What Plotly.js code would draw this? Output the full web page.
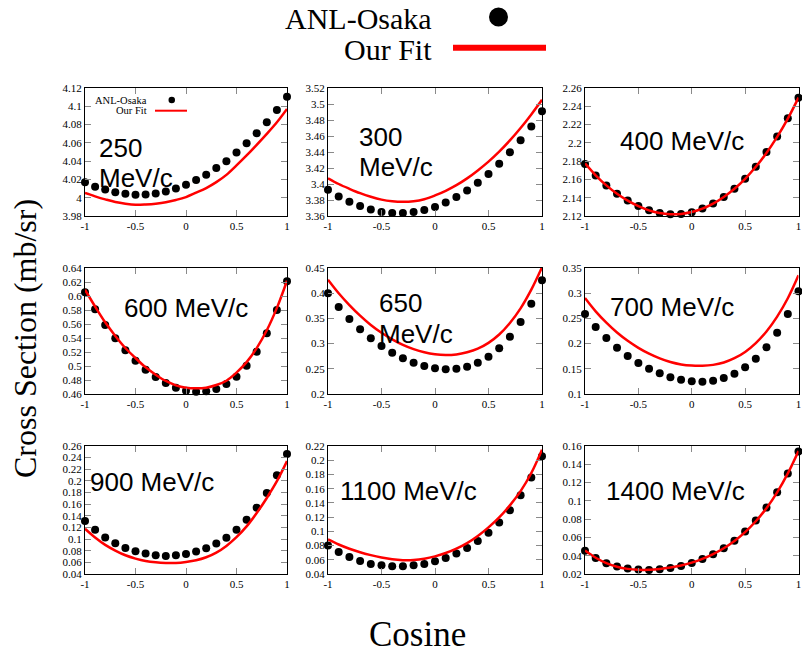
<!DOCTYPE html>
<html><head><meta charset="utf-8">
<script src="https://cdn.plot.ly/plotly-3.0.1.min.js"></script>
<style>html,body{margin:0;padding:0;background:#fff}#chart{width:802px;height:657px}</style>
</head><body><div id="chart"></div>
<script>
// ---- data ----
const cosine = [-1,-0.9,-0.8,-0.7,-0.6,-0.5,-0.4,-0.3,-0.2,-0.1,0,0.1,0.2,0.3,0.4,0.5,0.6,0.7,0.8,0.9,1];
const momentumLabels = ['250','300','400','600','650','700','900','1100','1400'];
const xTickVals = [-1,-0.5,0,0.5,1];
const xTickText = ['-1','-0.5','0','0.5','1'];

const anl250 = [4.017,4.012,4.009,4.006,4.0044,4.0033,4.0036,4.0047,4.0069,4.010,4.0142,4.0193,4.025,4.0324,4.040,4.0495,4.0596,4.0705,4.0825,4.096,4.1105];
const fit250 = [4.0051,4.0015,3.9982,3.9953,3.9935,3.9924,3.9927,3.9935,3.995,3.9975,4.0007,4.0055,4.0105,4.017,4.025,4.0353,4.0462,4.0578,4.0698,4.0825,4.0971];
const anl300 = [3.3928,3.3844,3.3777,3.3726,3.368,3.3651,3.3638,3.3638,3.3651,3.3676,3.3714,3.3768,3.3836,3.392,3.4017,3.4126,3.4253,3.4396,3.4547,3.472,3.491];
const fit300 = [3.4072,3.400,3.394,3.3885,3.384,3.3805,3.3785,3.3778,3.3785,3.3810,3.3857,3.3915,3.3985,3.4070,3.4170,3.4280,3.4405,3.4545,3.4700,3.4870,3.5053];
const anl400 = [2.1768,2.1643,2.1533,2.1442,2.1369,2.131,2.1262,2.1233,2.1218,2.1222,2.124,2.1281,2.1336,2.1409,2.1497,2.1607,2.1739,2.19,2.2069,2.227,2.2494];
const fit400 = [2.1775,2.1645,2.1535,2.1443,2.1368,2.1308,2.1262,2.1232,2.1220,2.1223,2.1243,2.1280,2.1335,2.1408,2.1498,2.1607,2.1738,2.1890,2.2065,2.2265,2.2495];
const anl600 = [0.6052,0.581,0.5586,0.5395,0.5224,0.5076,0.4948,0.4843,0.4757,0.469,0.4648,0.4633,0.4638,0.4671,0.4743,0.4848,0.5005,0.5205,0.5467,0.58,0.621];
const fit600 = [0.609,0.585,0.5624,0.543,0.5257,0.5114,0.4981,0.4876,0.4786,0.4724,0.469,0.4681,0.469,0.4728,0.479,0.4905,0.5055,0.5255,0.551,0.583,0.6219];
const anl650 = [0.3997,0.3726,0.3488,0.3283,0.3104,0.2952,0.282,0.2708,0.2622,0.2556,0.2509,0.2489,0.2503,0.2542,0.2622,0.2741,0.2906,0.3138,0.3429,0.3792,0.4255];
const fit650 = [0.4269,0.400,0.3765,0.3555,0.337,0.3215,0.3085,0.2975,0.289,0.2827,0.2787,0.2772,0.2785,0.2828,0.29,0.3015,0.318,0.341,0.37,0.407,0.4513];
const anl700 = [0.2587,0.2329,0.2111,0.1919,0.1753,0.1615,0.1503,0.141,0.1331,0.1284,0.1251,0.1245,0.1265,0.1317,0.1403,0.1529,0.1701,0.1926,0.2217,0.2587,0.3037];
const fit700 = [0.2905,0.264,0.2415,0.222,0.2055,0.1915,0.18,0.1707,0.1635,0.1587,0.1563,0.156,0.1578,0.1625,0.171,0.1835,0.201,0.224,0.2535,0.29,0.3355];
const anl900 = [0.131,0.116,0.1027,0.093,0.0849,0.0791,0.0751,0.0722,0.0711,0.0722,0.0745,0.0785,0.0843,0.0924,0.1022,0.116,0.1333,0.154,0.1794,0.2099,0.2462];
const fit900 = [0.1177,0.1027,0.0901,0.0803,0.0722,0.0665,0.0624,0.0601,0.059,0.059,0.0607,0.0636,0.0688,0.0768,0.0883,0.1033,0.1218,0.1448,0.1707,0.1995,0.2341];
const anl1100 = [0.0802,0.0709,0.0639,0.0582,0.054,0.0522,0.0508,0.0508,0.0522,0.054,0.0578,0.0624,0.069,0.0765,0.0863,0.098,0.1125,0.1298,0.1508,0.1756,0.2055];
const fit1100 = [0.0886,0.0815,0.0755,0.0705,0.0665,0.0632,0.0607,0.0595,0.0597,0.0615,0.0648,0.0695,0.0757,0.0835,0.0935,0.1055,0.1195,0.1365,0.1565,0.1820,0.2149];
const anl1400 = [0.0453,0.0376,0.0317,0.0281,0.0259,0.0248,0.0244,0.0251,0.0266,0.0288,0.0321,0.0365,0.0416,0.0482,0.0563,0.0665,0.0786,0.0926,0.1094,0.1299,0.1541];
const fit1400 = [0.0457,0.0378,0.0319,0.0279,0.0256,0.0246,0.0246,0.0254,0.027,0.0293,0.0325,0.0366,0.0418,0.0482,0.0561,0.0658,0.0777,0.092,0.1093,0.13,0.1545];

const anlSeries = [anl250,anl300,anl400,anl600,anl650,anl700,anl900,anl1100,anl1400];
const fitSeries = [fit250,fit300,fit400,fit600,fit650,fit700,fit900,fit1100,fit1400];
const yRanges = [[3.98,4.12],[3.36,3.52],[2.12,2.26],[0.46,0.64],[0.2,0.45],[0.1,0.35],[0.04,0.26],[0.04,0.22],[0.02,0.16]];
const yDticks = [0.02,0.02,0.02,0.02,0.05,0.05,0.02,0.02,0.02];

// ---- layout helpers ----
const W = 802, H = 657;
const px = v => v / W, py = v => 1 - v / H;
const colDom = [[85/W, 287/W],[328/W, 542/W],[585/W, 798.5/W]];
const rowDom = [[1-216/H, 1-88/H],[1-394/H, 1-268/H],[1-574/H, 1-446/H]];
const SERIF = 'Liberation Serif, Times New Roman, serif';
const SANS = 'Liberation Sans, Arial, sans-serif';

const traces = [];
const layout = {
  width: W, height: H,
  margin: {l:0, r:0, t:0, b:0},
  paper_bgcolor: '#fff', plot_bgcolor: '#fff',
  showlegend: false,
  annotations: [], shapes: []
};

const axisStyle = {
  ticks: 'inside', ticklen: 6, tickwidth: 1, tickcolor: '#8a8a8a',
  showline: true, linecolor: '#000', linewidth: 1, mirror: 'ticks',
  showgrid: false, zeroline: false, ticklabeloverflow: 'allow',
  tickfont: {family: SERIF, size: 11, color: '#000'},
  fixedrange: true
};

for (let i = 0; i < 9; i++) {
  const s = i === 0 ? '' : String(i + 1);
  const col = i % 3, row = Math.floor(i / 3);
  traces.push({
    x: cosine, y: anlSeries[i], type: 'scatter', mode: 'markers',
    marker: {size: 8, color: '#000'}, cliponaxis: false,
    xaxis: 'x' + s, yaxis: 'y' + s, hoverinfo: 'skip'
  });
  traces.push({
    x: cosine, y: fitSeries[i], type: 'scatter', mode: 'lines',
    line: {color: '#ff0000', width: 2.5, shape: 'spline', smoothing: 1},
    xaxis: 'x' + s, yaxis: 'y' + s, hoverinfo: 'skip'
  });
  layout['xaxis' + s] = Object.assign({}, axisStyle, {
    domain: colDom[col], anchor: 'y' + s, range: [-1, 1],
    tickmode: 'array', tickvals: xTickVals, ticktext: xTickText
  });
  layout['yaxis' + s] = Object.assign({}, axisStyle, {
    domain: rowDom[row], anchor: 'x' + s, range: yRanges[i],
    tickmode: 'linear', tick0: yRanges[i][0], dtick: yDticks[i]
  });
}

// panel labels
const labelPos = [
  {lines: ['250', 'MeV/c'], x: 97, y: [148, 178]},
  {lines: ['300', 'MeV/c'], x: 357, y: [137, 167]},
  {lines: ['400 MeV/c'], x: 618, y: [141]},
  {lines: ['600 MeV/c'], x: 122, y: [308]},
  {lines: ['650', 'MeV/c'], x: 377, y: [303, 334]},
  {lines: ['700 MeV/c'], x: 608, y: [307]},
  {lines: ['900 MeV/c'], x: 88, y: [482]},
  {lines: ['1100 MeV/c'], x: 338, y: [491]},
  {lines: ['1400 MeV/c'], x: 604, y: [491]}
];
labelPos.forEach(lp => {
  lp.lines.forEach((t, k) => {
    layout.annotations.push({
      text: t, xref: 'paper', yref: 'paper', x: px(lp.x), y: py(lp.y[k]),
      xanchor: 'left', yanchor: 'middle', showarrow: false,
      font: {family: SANS, size: 26, color: '#000'}
    });
  });
});

// axis titles
layout.annotations.push({
  text: 'Cross Section (mb/sr)', xref: 'paper', yref: 'paper',
  x: px(25), y: py(339), textangle: -90, showarrow: false,
  xanchor: 'center', yanchor: 'middle',
  font: {family: SERIF, size: 32, color: '#000'}
});
layout.annotations.push({
  text: 'Cosine', xref: 'paper', yref: 'paper',
  x: px(418), y: py(634), showarrow: false,
  xanchor: 'center', yanchor: 'middle',
  font: {family: SERIF, size: 35, color: '#000'}
});

// main legend
layout.annotations.push({
  text: 'ANL-Osaka', xref: 'paper', yref: 'paper', x: px(434), y: py(19),
  xanchor: 'right', yanchor: 'middle', showarrow: false,
  font: {family: SERIF, size: 30, color: '#000'}
});
layout.annotations.push({
  text: 'Our Fit', xref: 'paper', yref: 'paper', x: px(434), y: py(49),
  xanchor: 'right', yanchor: 'middle', showarrow: false,
  font: {family: SERIF, size: 30, color: '#000'}
});
layout.shapes.push({type: 'circle', xref: 'paper', yref: 'paper',
  x0: px(489), x1: px(508), y0: py(26.5), y1: py(7.5),
  fillcolor: '#000', line: {width: 0}});
layout.shapes.push({type: 'line', xref: 'paper', yref: 'paper',
  x0: px(453), x1: px(546), y0: py(47.7), y1: py(47.7),
  line: {color: '#ff0000', width: 6}});

// small legend inside first panel
layout.annotations.push({
  text: 'ANL-Osaka', xref: 'paper', yref: 'paper', x: px(149), y: py(100),
  xanchor: 'right', yanchor: 'middle', showarrow: false,
  font: {family: SERIF, size: 10.5, color: '#000'}
});
layout.annotations.push({
  text: 'Our Fit', xref: 'paper', yref: 'paper', x: px(149), y: py(111),
  xanchor: 'right', yanchor: 'middle', showarrow: false,
  font: {family: SERIF, size: 10.5, color: '#000'}
});
layout.shapes.push({type: 'circle', xref: 'paper', yref: 'paper',
  x0: px(168.5), x1: px(175), y0: py(103.3), y1: py(96.7),
  fillcolor: '#000', line: {width: 0}});
layout.shapes.push({type: 'line', xref: 'paper', yref: 'paper',
  x0: px(155), x1: px(187), y0: py(110.7), y1: py(110.7),
  line: {color: '#ff0000', width: 2}});

Plotly.newPlot('chart', traces, layout, {displayModeBar: false, staticPlot: true});
</script>
</body></html>
